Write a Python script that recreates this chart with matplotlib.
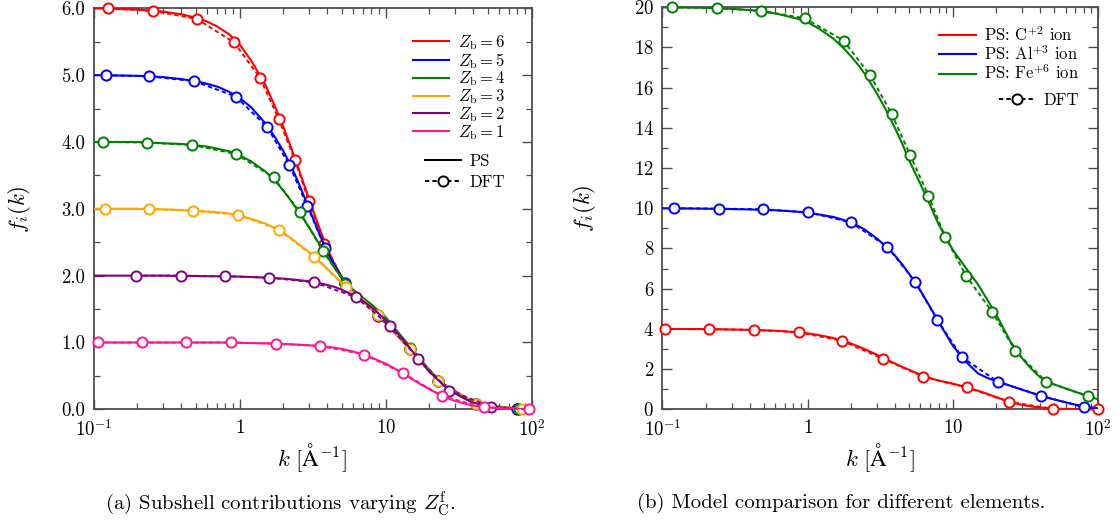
import matplotlib
matplotlib.use("Agg")
import matplotlib.pyplot as plt
from matplotlib.lines import Line2D
from matplotlib.ticker import FixedLocator, FixedFormatter, LogLocator, MultipleLocator, NullFormatter

plt.rcParams["mathtext.fontset"] = "cm"
plt.rcParams["font.family"] = ["cmr10", "DejaVu Serif"]
plt.rcParams["axes.formatter.use_mathtext"] = True

# ---------------- data ----------------
# wavenumber grid for the pseudo-shell (PS) model curves [1/Angstrom]
k_ps = [0.1, 0.2, 0.3, 0.4, 0.5, 0.6, 0.7, 0.85, 1.0, 1.2, 1.5, 1.75, 2.0, 2.25, 2.5, 3.0, 3.5,
        4.0, 4.5, 5.0, 6.0, 7.0, 8.0, 10, 12, 15, 17.5, 20, 25, 30, 35, 40, 50, 60, 70, 85, 100]

# (a) subshell contributions for varying bound charge Z_b
zb_labels = [6, 5, 4, 3, 2, 1]
zb_colors = ["red", "blue", "green", "orange", "purple", "deeppink"]

ps_zb6 = [6.0, 5.98, 5.95, 5.91, 5.86, 5.80, 5.73, 5.61, 5.46, 5.22, 4.86, 4.53, 4.22, 3.92, 3.64,
          3.14, 2.73, 2.40, 2.15, 1.98, 1.77, 1.65, 1.53, 1.34, 1.14, 0.89, 0.72, 0.57, 0.36,
          0.24, 0.16, 0.10, 0.05, 0.03, 0.015, 0.005, 0.0]
ps_zb5 = [5.0, 4.99, 4.97, 4.94, 4.91, 4.87, 4.83, 4.75, 4.66, 4.52, 4.28, 4.07, 3.86, 3.64, 3.42,
          3.0, 2.64, 2.35, 2.13, 1.97, 1.77, 1.65, 1.53, 1.34, 1.14, 0.89, 0.72, 0.57, 0.36,
          0.24, 0.16, 0.10, 0.05, 0.03, 0.015, 0.005, 0.0]
ps_zb4 = [4.0, 4.0, 3.98, 3.97, 3.95, 3.93, 3.90, 3.86, 3.80, 3.71, 3.56, 3.42, 3.27, 3.12, 2.98,
          2.72, 2.48, 2.28, 2.11, 1.98, 1.79, 1.67, 1.57, 1.38, 1.17, 0.92, 0.74, 0.59, 0.37,
          0.25, 0.16, 0.11, 0.05, 0.03, 0.015, 0.005, 0.0]
ps_zb3 = [3.0, 3.0, 2.99, 2.98, 2.97, 2.96, 2.95, 2.93, 2.90, 2.85, 2.78, 2.71, 2.63, 2.56, 2.48,
          2.35, 2.22, 2.10, 1.99, 1.90, 1.75, 1.64, 1.53, 1.34, 1.14, 0.89, 0.72, 0.57, 0.36,
          0.24, 0.16, 0.10, 0.05, 0.03, 0.015, 0.005, 0.0]
ps_zb2 = [2.0, 2.0, 2.0, 1.995, 1.995, 1.99, 1.99, 1.99, 1.985, 1.98, 1.97, 1.962, 1.955, 1.945,
          1.935, 1.915, 1.89, 1.86, 1.83, 1.79, 1.71, 1.62, 1.53, 1.34, 1.15, 0.89, 0.71, 0.56,
          0.36, 0.24, 0.16, 0.10, 0.05, 0.03, 0.015, 0.005, 0.0]
ps_zb1 = [1.0, 1.0, 1.0, 1.0, 1.0, 1.0, 1.0, 0.998, 0.995, 0.992, 0.988, 0.983, 0.978, 0.973, 0.968,
          0.957, 0.946, 0.935, 0.92, 0.905, 0.865, 0.82, 0.775, 0.685, 0.59, 0.46, 0.37, 0.30,
          0.19, 0.125, 0.085, 0.055, 0.028, 0.016, 0.008, 0.003, 0.0]

k_dft_zb6 = [0.126, 0.257, 0.509, 0.917, 1.38, 1.85, 2.39, 2.99, 3.81, 5.29, 8.93, 14.7, 23.0, 41.7, 80.0]
f_dft_zb6 = [6.0, 5.96, 5.84, 5.49, 4.96, 4.35, 3.73, 3.11, 2.48, 1.89, 1.40, 0.90, 0.43, 0.08, 0.01]
k_dft_zb5 = [0.121, 0.241, 0.488, 0.942, 1.55, 2.19, 2.91, 3.85, 5.29, 8.93, 14.7, 23.0, 41.7, 80.0]
f_dft_zb5 = [5.0, 4.98, 4.91, 4.68, 4.22, 3.66, 3.04, 2.42, 1.89, 1.40, 0.90, 0.43, 0.08, 0.01]
k_dft_zb4 = [0.116, 0.233, 0.475, 0.946, 1.71, 2.59, 3.72, 5.30, 8.93, 14.7, 23.0, 41.7, 82.0]
f_dft_zb4 = [4.0, 3.99, 3.955, 3.82, 3.47, 2.95, 2.37, 1.88, 1.41, 0.91, 0.43, 0.08, 0.01]
k_dft_zb3 = [0.119, 0.239, 0.481, 0.977, 1.87, 3.24, 5.33, 8.93, 14.7, 23.0, 41.7, 85.7]
f_dft_zb3 = [3.0, 3.0, 2.97, 2.91, 2.69, 2.28, 1.83, 1.41, 0.90, 0.43, 0.08, 0.01]
k_dft_zb2 = [0.196, 0.397, 0.796, 1.60, 3.24, 6.25, 10.7, 16.8, 27.4, 52.8]
f_dft_zb2 = [2.0, 2.0, 1.99, 1.97, 1.90, 1.68, 1.25, 0.75, 0.28, 0.04]
k_dft_zb1 = [0.107, 0.216, 0.432, 0.875, 1.77, 3.56, 7.13, 13.2, 24.3, 47.0, 96.6]
f_dft_zb1 = [1.0, 1.0, 1.0, 1.0, 0.98, 0.95, 0.82, 0.54, 0.20, 0.03, 0.0]

# (b) ion form factors for different elements
ion_labels = [r"PS: C$^{+2}$ ion", r"PS: Al$^{+3}$ ion", r"PS: Fe$^{+6}$ ion"]
ion_colors = ["red", "blue", "green"]

ps_c = [4.0, 3.99, 3.97, 3.95, 3.93, 3.91, 3.88, 3.83, 3.78, 3.69, 3.55, 3.41, 3.27, 3.12, 2.98,
        2.72, 2.48, 2.28, 2.11, 1.97, 1.72, 1.55, 1.43, 1.28, 1.12, 0.92, 0.76, 0.60, 0.36,
        0.22, 0.14, 0.09, 0.04, 0.02, 0.01, 0.004, 0.0]
ps_al = [10.0, 9.98, 9.96, 9.94, 9.92, 9.90, 9.87, 9.83, 9.77, 9.69, 9.57, 9.43, 9.28, 9.11, 8.92,
         8.5, 8.08, 7.65, 7.2, 6.75, 5.9, 5.08, 4.35, 3.18, 2.45, 1.78, 1.55, 1.40, 1.17,
         0.98, 0.82, 0.68, 0.49, 0.35, 0.23, 0.12, 0.05]
ps_fe = [20.0, 19.97, 19.92, 19.86, 19.78, 19.69, 19.58, 19.43, 19.25, 18.93, 18.45, 18.0, 17.55,
         17.1, 16.65, 15.72, 14.85, 14.0, 13.2, 12.4, 11.2, 10.15, 9.2, 7.95, 7.15, 6.2, 5.4,
         4.7, 3.38, 2.55, 2.0, 1.6, 1.24, 1.04, 0.87, 0.67, 0.5]

k_dft_c = [0.104, 0.21, 0.428, 0.869, 1.72, 3.30, 6.29, 12.5, 24.4, 49.0, 100.0]
f_dft_c = [4.0, 3.99, 3.95, 3.83, 3.41, 2.52, 1.62, 1.09, 0.38, 0.02, 0.0]
k_dft_al = [0.12, 0.245, 0.496, 1.01, 1.99, 3.55, 5.51, 7.85, 11.6, 20.5, 40.4, 80.7]
f_dft_al = [10.0, 9.98, 9.95, 9.80, 9.30, 8.09, 6.35, 4.44, 2.59, 1.37, 0.68, 0.10]
k_dft_fe = [0.116, 0.236, 0.478, 0.957, 1.77, 2.70, 3.81, 5.09, 6.81, 8.87, 12.4, 18.8, 27.0, 44.0, 85.5]
f_dft_fe = [20.0, 19.95, 19.82, 19.45, 18.34, 16.62, 14.68, 12.65, 10.63, 8.59, 6.63, 4.83, 2.92, 1.37, 0.66]

xtick_vals = [0.1, 1, 10, 100]
xtick_text = [r"$10^{-1}$", r"$1$", r"$10$", r"$10^{2}$"]
ytick_a = [0, 1, 2, 3, 4, 5, 6]
ytick_a_text = ["0.0", "1.0", "2.0", "3.0", "4.0", "5.0", "6.0"]

# ---------------- styles ----------------
LW = 1.5
DFT_STYLE = dict(ls=(0, (2.2, 1.6)), lw=1.4, marker="o", ms=7.3, mfc="white", mew=1.4)
SPINE = "0.3"
LEG = dict(frameon=False, fontsize=12, handlelength=2.2,
           handletextpad=0.5, borderaxespad=0, loc="upper right")


def style_axes(ax, ylabel_x):
    ax.set_xscale("log")
    ax.set_xlim(0.1, 100)
    ax.xaxis.set_major_locator(FixedLocator(xtick_vals))
    ax.xaxis.set_major_formatter(FixedFormatter(xtick_text))
    ax.xaxis.set_minor_locator(LogLocator(base=10, subs=range(2, 10)))
    ax.xaxis.set_minor_formatter(NullFormatter())
    ax.tick_params(which="both", direction="in", top=True, right=True, color=SPINE,
                   labelsize=13.5)
    ax.tick_params(axis="x", which="both", pad=7)
    ax.tick_params(axis="y", which="both", pad=6)
    ax.tick_params(which="major", length=7, width=1.0)
    ax.tick_params(which="minor", length=4, width=0.9)
    for s in ax.spines.values():
        s.set_color(SPINE)
        s.set_linewidth(1.3)
    ax.set_xlabel(r"$k\ [\mathrm{\AA}^{-1}]$", fontsize=16.5, labelpad=1)
    ax.set_ylabel(r"$f_i(k)$", fontsize=16.5)
    ax.yaxis.set_label_coords(ylabel_x, 0.5)


fig = plt.figure(figsize=(11.19, 5.27), dpi=100)
ax1 = fig.add_axes([0.0836, 0.2233, 0.3914, 0.761])
ax2 = fig.add_axes([0.592, 0.2233, 0.389, 0.763])

# ---- panel (a) ----
ps_a = [ps_zb6, ps_zb5, ps_zb4, ps_zb3, ps_zb2, ps_zb1]
dft_a = [(k_dft_zb6, f_dft_zb6), (k_dft_zb5, f_dft_zb5), (k_dft_zb4, f_dft_zb4),
         (k_dft_zb3, f_dft_zb3), (k_dft_zb2, f_dft_zb2), (k_dft_zb1, f_dft_zb1)]
for i, (ps, (kd, fd), c) in enumerate(zip(ps_a, dft_a, zb_colors)):
    ax1.plot(k_ps, ps, color=c, lw=LW, zorder=3 + 2 * i)
    ax1.plot(kd, fd, color=c, zorder=4 + 2 * i, clip_on=False, **DFT_STYLE)

style_axes(ax1, -0.138)
ax1.set_ylim(0, 6)
ax1.set_yticks(ytick_a)
ax1.set_yticklabels(ytick_a_text)
ax1.yaxis.set_minor_locator(MultipleLocator(0.5))

h_zb = [Line2D([], [], color=c, lw=LW) for c in zb_colors]
leg1 = ax1.legend(h_zb, [r"$Z_{\rm b} = %d$" % z for z in zb_labels],
                  bbox_to_anchor=(0.955, 0.955), labelspacing=-0.06, **LEG)
ax1.add_artist(leg1)
h_model = [Line2D([], [], color="black", lw=LW),
           Line2D([], [], color="black", **DFT_STYLE)]
ax1.legend(h_model, ["PS", "DFT"], bbox_to_anchor=(0.955, 0.655), labelspacing=0.36, **LEG)

# ---- panel (b) ----
ps_b = [ps_c, ps_al, ps_fe]
dft_b = [(k_dft_c, f_dft_c), (k_dft_al, f_dft_al), (k_dft_fe, f_dft_fe)]
for i, (ps, (kd, fd), c) in enumerate(zip(ps_b, dft_b, ion_colors)):
    ax2.plot(k_ps, ps, color=c, lw=LW, zorder=3 + 2 * i)
    ax2.plot(kd, fd, color=c, zorder=4 + 2 * i, clip_on=False, **DFT_STYLE)

style_axes(ax2, -0.148)
ax2.set_ylim(0, 20)
ax2.yaxis.set_major_locator(MultipleLocator(2))
ax2.yaxis.set_minor_locator(MultipleLocator(1))

h_ion = [Line2D([], [], color=c, lw=LW) for c in ion_colors]
leg2 = ax2.legend(h_ion, ion_labels, bbox_to_anchor=(0.973, 0.973), labelspacing=0.04, **LEG)
ax2.add_artist(leg2)
ax2.legend([Line2D([], [], color="black", **DFT_STYLE)], ["DFT"],
           bbox_to_anchor=(0.973, 0.805), **LEG)

# ---- captions ----
fig.text(0.25, 0.045, r"(a) Subshell contributions varying $Z_{\rm C}^{\rm f}$.",
         ha="center", va="center", fontsize=15)
fig.text(0.752, 0.045, "(b) Model comparison for different elements.",
         ha="center", va="center", fontsize=15)

fig.savefig("out.png", dpi=100)
